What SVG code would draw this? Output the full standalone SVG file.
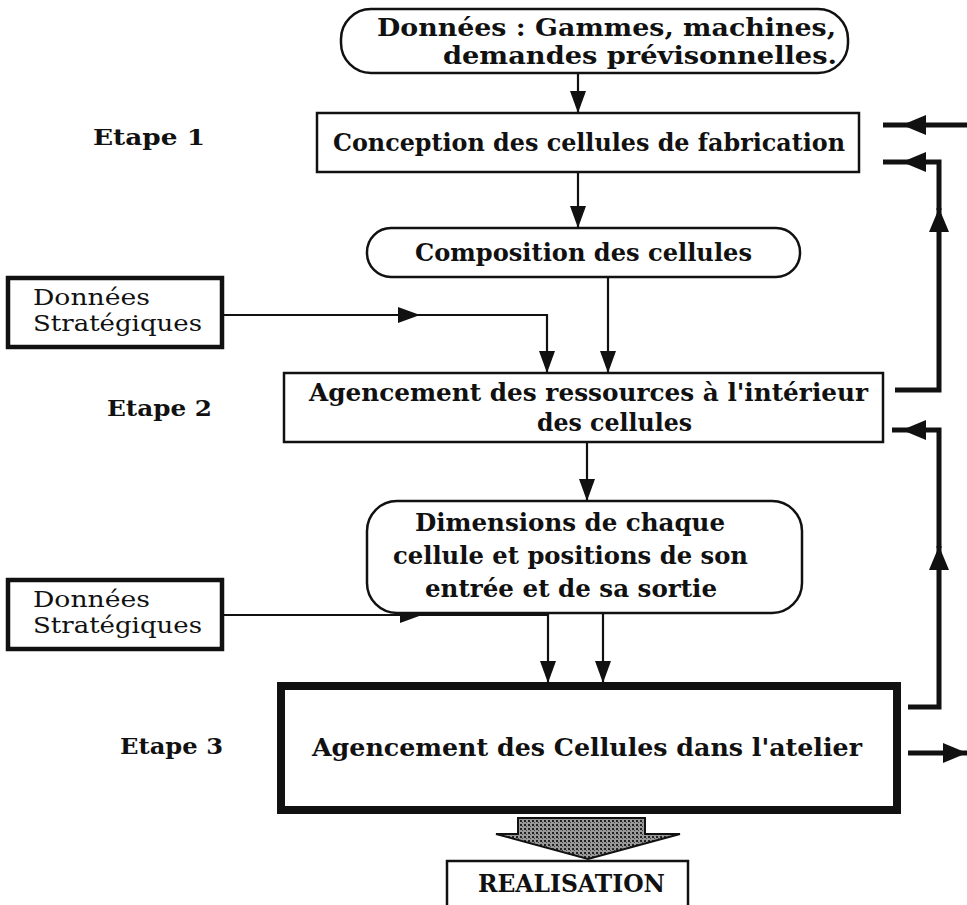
<svg xmlns="http://www.w3.org/2000/svg" width="967" height="905" viewBox="0 0 967 905">
<style>
.b{font-family:"DejaVu Serif","Liberation Serif",serif;font-weight:bold;font-size:24px;fill:#111}
.e{font-family:"DejaVu Serif","Liberation Serif",serif;font-weight:bold;font-size:23px;fill:#111}
.r{font-family:"DejaVu Serif","Liberation Serif",serif;font-size:22px;fill:#111}
.box{fill:#fff;stroke:#111;stroke-width:2.5}
.dbox{fill:#fff;stroke:#111;stroke-width:4.5}
.thick{fill:#fff;stroke:#111;stroke-width:8}
.ln{fill:none;stroke:#111;stroke-width:2.2}
.fb{fill:none;stroke:#111;stroke-width:5}
</style>
<defs>
<marker id="ah" viewBox="0 0 22 16" refX="22" refY="8" markerWidth="22" markerHeight="16" markerUnits="userSpaceOnUse" orient="auto"><path d="M0,0 L22,8 L0,16 Z" fill="#111"/></marker>
<marker id="ahb" viewBox="0 0 24 20" refX="24" refY="10" markerWidth="24" markerHeight="20" markerUnits="userSpaceOnUse" orient="auto"><path d="M0,0 L24,10 L0,20 Z" fill="#111"/></marker>
<pattern id="ht" width="4" height="4" patternUnits="userSpaceOnUse"><rect width="4" height="4" fill="#9a9a9a"/><rect width="2" height="2" fill="#222"/><rect x="2" y="2" width="1" height="1" fill="#444"/></pattern>
</defs>

<g id="labels">
<text class="e" x="93" y="145" textLength="112" lengthAdjust="spacingAndGlyphs">Etape 1</text>
<text class="e" x="107" y="416" textLength="105" lengthAdjust="spacingAndGlyphs">Etape 2</text>
<text class="e" x="120" y="754" textLength="103" lengthAdjust="spacingAndGlyphs">Etape 3</text>
</g>

<g id="connectors">
<path class="ln" d="M578,73 V113" marker-end="url(#ah)"/>
<path class="ln" d="M578,172 V228" marker-end="url(#ah)"/>
<path class="ln" d="M608,277 V373" marker-end="url(#ah)"/>
<path class="ln" d="M222,315 H420" marker-end="url(#ah)"/>
<path class="ln" d="M418,315 H547 V373" marker-end="url(#ah)"/>
<path class="ln" d="M587,442 V501" marker-end="url(#ah)"/>
<path class="ln" d="M603,613 V683" marker-end="url(#ah)"/>
<path class="ln" d="M222,615 H422" marker-end="url(#ah)"/>
<path class="ln" d="M420,615 H548 V683" marker-end="url(#ah)"/>
<path class="fb" d="M967,125 H902" marker-end="url(#ahb)"/>
<path class="fb" d="M902,125 H883"/>
<path class="fb" d="M895,390 H939 V208" marker-end="url(#ahb)"/>
<path class="fb" d="M939,210 V162 H902" marker-end="url(#ahb)"/>
<path class="fb" d="M902,162 H883"/>
<path class="fb" d="M908,707 H939 V546" marker-end="url(#ahb)"/>
<path class="fb" d="M939,548 V430 H902" marker-end="url(#ahb)"/>
<path class="fb" d="M902,430 H892"/>
<path class="fb" d="M908,753 H967" marker-end="url(#ahb)"/>
</g>

<g id="n-donnees">
<rect class="box" x="341" y="9" width="507" height="64" rx="30"/>
<text class="b" x="377" y="36" textLength="459" lengthAdjust="spacingAndGlyphs">Données : Gammes, machines,</text>
<text class="b" x="443" y="64" textLength="394" lengthAdjust="spacingAndGlyphs">demandes prévisonnelles.</text>
</g>

<g id="n-conception">
<rect class="box" x="317" y="113" width="542" height="59"/>
<text class="b" x="333" y="151" textLength="512" lengthAdjust="spacingAndGlyphs">Conception des cellules de fabrication</text>
</g>

<g id="n-composition">
<rect class="box" x="367" y="228" width="433" height="49" rx="24"/>
<text class="b" x="415" y="261" textLength="337" lengthAdjust="spacingAndGlyphs">Composition des cellules</text>
</g>

<g id="n-strat1">
<rect class="dbox" x="8" y="278" width="214" height="69"/>
<text class="r" x="33" y="305" textLength="117" lengthAdjust="spacingAndGlyphs">Données</text>
<text class="r" x="33" y="331" textLength="169" lengthAdjust="spacingAndGlyphs">Stratégiques</text>
</g>

<g id="n-agencement-ressources">
<rect class="box" x="284" y="373" width="599" height="69"/>
<text class="b" x="309" y="401" textLength="559" lengthAdjust="spacingAndGlyphs">Agencement des ressources à l'intérieur</text>
<text class="b" x="537" y="431" textLength="155" lengthAdjust="spacingAndGlyphs">des cellules</text>
</g>

<g id="n-dimensions">
<rect class="box" x="367" y="501" width="435" height="112" rx="30"/>
<text class="b" x="415" y="531" textLength="310" lengthAdjust="spacingAndGlyphs">Dimensions de chaque</text>
<text class="b" x="393" y="564" textLength="355" lengthAdjust="spacingAndGlyphs">cellule et positions de son</text>
<text class="b" x="425" y="597" textLength="292" lengthAdjust="spacingAndGlyphs">entrée et de sa sortie</text>
</g>

<g id="n-strat2">
<rect class="dbox" x="8" y="580" width="214" height="69"/>
<text class="r" x="33" y="607" textLength="117" lengthAdjust="spacingAndGlyphs">Données</text>
<text class="r" x="33" y="633" textLength="169" lengthAdjust="spacingAndGlyphs">Stratégiques</text>
</g>

<g id="n-agencement-cellules">
<rect class="thick" x="281" y="686" width="616" height="124"/>
<text class="b" x="312" y="756" textLength="550" lengthAdjust="spacingAndGlyphs">Agencement des Cellules dans l'atelier</text>
</g>

<g id="big-arrow">
<path d="M518,818 H645 V834 H680 L588,859 L496,834 H518 Z" fill="url(#ht)" stroke="#111" stroke-width="2"/>
</g>

<g id="n-realisation">
<rect class="box" x="447" y="861" width="241" height="60"/>
<text class="b" x="478" y="892" textLength="187" lengthAdjust="spacingAndGlyphs">REALISATION</text>
</g>
</svg>
